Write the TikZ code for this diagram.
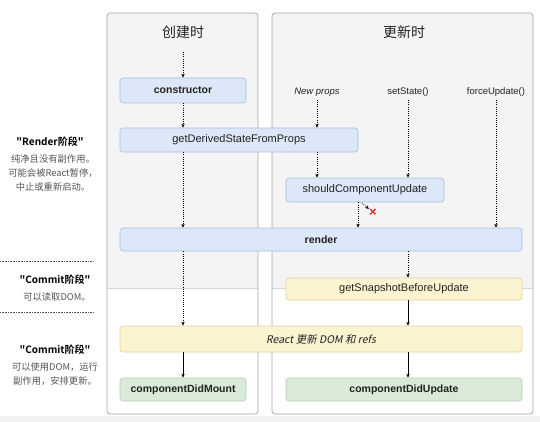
\documentclass[tikz,border=0pt]{standalone}
\usepackage{fontspec}
\setmainfont{Liberation Sans}
\newfontfamily\cjk[BoldFont={Noto Sans CJK SC Bold}]{Noto Sans CJK SC}
\newfontfamily\cjkit[FakeSlant=0.2]{Noto Sans CJK SC}
\usetikzlibrary{arrows.meta}

\definecolor{panelgris}{HTML}{F4F4F4}
\definecolor{panelborde}{HTML}{A4A4A4}
\definecolor{panellinea}{HTML}{D6D6D6}
\definecolor{fondo}{HTML}{F2F2F2}
\definecolor{azul}{HTML}{DCE7F8}
\definecolor{azulborde}{HTML}{A5BFE5}
\definecolor{amarillo}{HTML}{FCF3D1}
\definecolor{amarilloborde}{HTML}{E4D495}
\definecolor{verde}{HTML}{D9EAD8}
\definecolor{verdeborde}{HTML}{B2CFB0}
\definecolor{texto}{HTML}{222222}
\definecolor{notagris}{HTML}{555555}
\definecolor{rojo}{HTML}{D8262C}

\begin{document}
\begin{tikzpicture}[x=1pt,y=-1pt]
    \tikzset{caja/.style = {shape=rectangle,draw,rounded corners=3pt,line width=0.6pt,inner sep=0pt,text=texto,font=\fontsize{11}{12}\selectfont}}
    \tikzset{Montaje/.style = {caja,fill=azul,draw=azulborde}}
    \tikzset{Commit/.style = {caja,fill=amarillo,draw=amarilloborde}}
    \tikzset{Final/.style = {caja,fill=verde,draw=verdeborde,font=\fontsize{10.5}{12}\selectfont\bfseries}}
    \tikzset{titulo/.style = {text=texto,font=\cjk\fontsize{14}{16}\selectfont}}
    \tikzset{fuente/.style = {text=texto,font=\fontsize{9.5}{11}\selectfont}}
    \tikzset{notaTitulo/.style = {text=black,font=\cjk\bfseries\fontsize{10}{12}\selectfont}}
    \tikzset{nota/.style = {text=notagris,align=center,font=\cjk\fontsize{9.3}{14}\selectfont}}

    \tikzset{flujo/.style = {-{Stealth[length=4pt,width=3.4pt]},line width=0.6pt,dash pattern=on 1pt off 1.2pt}}
    \tikzset{directo/.style = {-{Stealth[length=4pt,width=3.4pt]},line width=0.6pt}}

    \useasboundingbox (0,0) rectangle (540,422);
    \fill[fondo] (0,416) rectangle (540,422);

    % paneles
    \foreach \xa/\xb in {107/258, 272/533} {
        \begin{scope}
            \clip[rounded corners=3pt] (\xa,13) rectangle (\xb,414);
            \fill[white] (\xa,13) rectangle (\xb,414);
            \fill[panelgris] (\xa,13) rectangle (\xb,288);
            \draw[panellinea] (\xa,288) -- (\xb,288);
        \end{scope}
        \draw[panelborde,line width=0.7pt,rounded corners=3pt] (\xa,13) rectangle (\xb,414);
    }

    % columnas
    \coordinate (colA) at (183,0);
    \coordinate (colB) at (317,0);
    \coordinate (colC) at (408,0);
    \coordinate (colD) at (496,0);
    \coordinate (colE) at (358,0);

    \node[titulo] (creacion) at (183,32) {创建时};
    \node[titulo] (actualizacion) at (404,32) {更新时};
    \coordinate (inicio) at (183,52);

    \node[fuente,font=\fontsize{9.5}{11}\selectfont\itshape] (props) at (317,92) {New props};
    \node[fuente] (setstate) at (408,92) {setState()};
    \node[fuente] (forzar) at (496,92) {forceUpdate()};

    \node[Montaje,minimum width=126pt,minimum height=25pt,font=\fontsize{10.5}{12}\selectfont\bfseries] (constructor) at (183,90.5) {constructor};
    \node[Montaje,minimum width=238pt,minimum height=24pt] (derivado) at (239,140) {getDerivedStateFromProps};
    \node[Montaje,minimum width=158pt,minimum height=24pt] (deberia) at (365,190) {shouldComponentUpdate};
    \node[Montaje,minimum width=402pt,minimum height=23pt,font=\fontsize{10.5}{12}\selectfont\bfseries] (render) at (321,239.5) {render};
    \node[Commit,minimum width=236pt,minimum height=22pt] (snapshot) at (404,289) {getSnapshotBeforeUpdate};
    \node[Commit,minimum width=402pt,minimum height=26pt,font=\cjkit\fontsize{10.5}{12}\selectfont] (dom) at (321,339) {React 更新 DOM 和 refs};
    \node[Final,minimum width=126pt,minimum height=23pt] (montado) at (183,389.5) {componentDidMount};
    \node[Final,minimum width=236pt,minimum height=23pt] (actualizado) at (404,389.5) {componentDidUpdate};

    \node[text=rojo,font=\bfseries\fontsize{13}{14}\selectfont,inner sep=0pt] (cruz) at (373,213) {\texttimes};

    % notas de la izquierda
    \node[notaTitulo] (renderFase) at (50,142) {"Render阶段"};
    \node[nota,anchor=north] (renderNota) at (53,151) {纯净且没有副作用。\\可能会被React暂停，\\中止或重新启动。};
    \node[notaTitulo] (commitFase) at (55,280) {"Commit阶段"};
    \node[nota,anchor=north] (commitNota) at (57,289) {可以读取DOM。};
    \node[notaTitulo] (commitFaseB) at (55,350) {"Commit阶段"};
    \node[nota,anchor=north] (commitNotaB) at (55,359) {可以使用DOM，运行\\副作用，安排更新。};
    \draw[line width=0.6pt,dash pattern=on 0.8pt off 0.8pt,notagris] (0,261) -- (93,261);
    \draw[line width=0.6pt,dash pattern=on 0.8pt off 0.8pt,notagris] (0,312) -- (93,312);

    % flechas
    \draw [flujo] (inicio) -- (constructor.north);
    \draw [flujo] (constructor.south) -- (colA |- derivado.north);
    \draw [flujo] (props.south) -- (colB |- derivado.north);
    \draw [flujo] (colB |- derivado.south) -- (colB |- deberia.north);
    \draw [flujo] (setstate.south) -- (colC |- deberia.north);
    \draw [flujo] (forzar.south) -- (colD |- render.north);
    \draw [flujo] (colA |- derivado.south) -- (colA |- render.north);
    \draw [flujo] (colE |- deberia.south) -- (colE |- render.north);
    \draw [flujo,shorten <=1pt] ([xshift=3pt]colE |- deberia.south) -- (cruz.north west);
    \draw [flujo] (colC |- render.south) -- (colC |- snapshot.north);
    \draw [flujo] (colA |- render.south) -- (colA |- dom.north);
    \draw [directo] (snapshot.south -| colC) -- (colC |- dom.north);
    \draw [directo] (colA |- dom.south) -- (montado.north);
    \draw [directo] (colC |- dom.south) -- (colC |- actualizado.north);
\end{tikzpicture}
\end{document}
